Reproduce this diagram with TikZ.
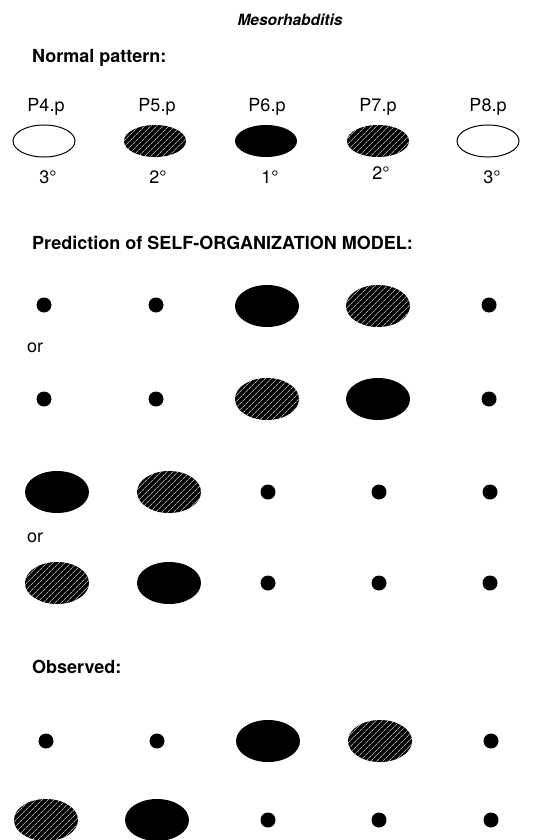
\documentclass[tikz,border=0pt]{standalone}
\usepackage{fontspec}
\setmainfont{TeX Gyre Heros}
\usetikzlibrary{patterns.meta}

\begin{document}
\begin{tikzpicture}[x=1pt, y=-1pt,
    txt/.style={font=\fontsize{18}{21}\selectfont, inner sep=0pt, anchor=base},
    head/.style={font=\fontsize{18}{21}\selectfont\bfseries, inner sep=0pt, anchor=base west},
    hatch/.style={pattern={Lines[angle=45, distance=4pt, line width=0.5pt]}, pattern color=white}]
        \useasboundingbox (0,0) rectangle (557,840);

        % Headings
        \node[txt, font=\fontsize{15.5}{18}\selectfont\bfseries\itshape] (title) at (290,26) {Mesorhabditis};
        \node[head] (normal) at (32,63) {Normal pattern:};
        \node[head] (predict) at (32,249) {Prediction of SELF-ORGANIZATION MODEL:};
        \node[head] (observed) at (32,673) {Observed:};

        % Cell names
        \node[txt] (p4) at (46,112) {P4.p};
        \node[txt] (p5) at (157,112) {P5.p};
        \node[txt] (p6) at (267,112) {P6.p};
        \node[txt] (p7) at (378,112) {P7.p};
        \node[txt] (p8) at (488,112) {P8.p};

        % Normal pattern
        \draw[line width=1pt] (44,141) ellipse (31 and 16);
        \fill (155,141) ellipse (31 and 16);
        \fill[hatch] (155,141) ellipse (31 and 16);
        \fill (266,141) ellipse (31 and 16);
        \fill (378,141) ellipse (31 and 16);
        \fill[hatch] (378,141) ellipse (31 and 16);
        \draw[line width=1pt] (488,141) ellipse (31 and 16);

        % Fates
        \node[txt] (f4) at (48,183) {3°};
        \node[txt] (f5) at (158,183) {2°};
        \node[txt] (f6) at (270,183) {1°};
        \node[txt] (f7) at (381,179) {2°};
        \node[txt] (f8) at (492,183) {3°};

        % Prediction, first pair
        \foreach \x in {44,156,489} \fill (\x,305) circle (7.5);
        \fill (267,306) ellipse (32 and 21);
        \fill (378,306) ellipse (32 and 21);
        \fill[hatch] (378,306) ellipse (32 and 21);
        \node[txt, anchor=base west] (or1) at (27,352) {or};
        \foreach \x in {44,156,489} \fill (\x,399) circle (7.5);
        \fill (267,399) ellipse (32 and 21);
        \fill[hatch] (267,399) ellipse (32 and 21);
        \fill (378,399) ellipse (32 and 21);

        % Prediction, second pair
        \fill (57,492) ellipse (32 and 21);
        \fill (169,492) ellipse (32 and 21);
        \fill[hatch] (169,492) ellipse (32 and 21);
        \foreach \x in {268,379,490} \fill (\x,492) circle (7.5);
        \node[txt, anchor=base west] (or2) at (27,542) {or};
        \fill (57,583) ellipse (32 and 21);
        \fill[hatch] (57,583) ellipse (32 and 21);
        \fill (169,583) ellipse (32 and 21);
        \foreach \x in {268,379,490} \fill (\x,583) circle (7.5);

        % Observed
        \foreach \x in {46,157,491} \fill (\x,741) circle (7.5);
        \fill (268,741) ellipse (32 and 21);
        \fill (380,741) ellipse (32 and 21);
        \fill[hatch] (380,741) ellipse (32 and 21);
        \fill (46,820) ellipse (32 and 21);
        \fill[hatch] (46,820) ellipse (32 and 21);
        \fill (157,820) ellipse (32 and 21);
        \foreach \x in {268,379,491} \fill (\x,820) circle (7.5);
      \end{tikzpicture}
\end{document}
